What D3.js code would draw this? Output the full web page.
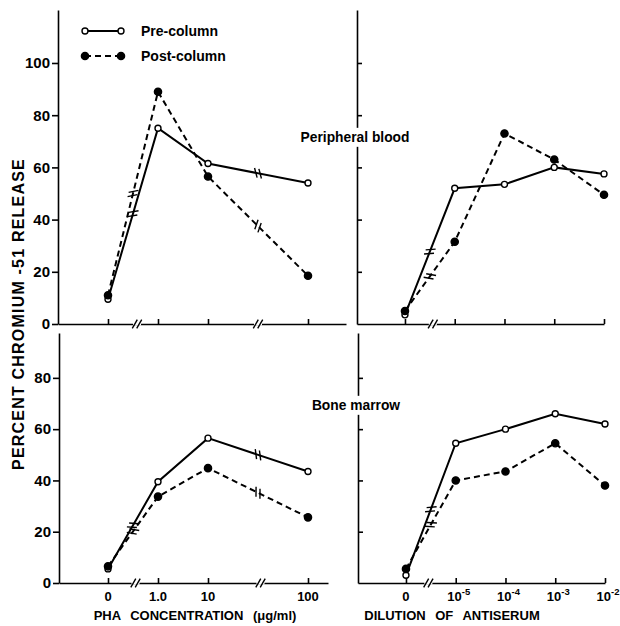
<!DOCTYPE html>
<html><head><meta charset="utf-8">
<script src="https://cdn.jsdelivr.net/npm/d3@7"></script>
<style>body{margin:0;background:#fff}svg{display:block}</style>
</head><body>
<svg id="c" width="620" height="626"></svg>
<script>
// ---- data ----
const phaLabels = ["0", "1.0", "10", "100"];
const phaPos = [0, 1, 2, 4];
const dilLabels = [["0", ""], ["10", "-5"], ["10", "-4"], ["10", "-3"], ["10", "-2"]];
const dilPos = [0, 1, 2, 3, 4];
const yTicksTop = [0, 20, 40, 60, 80, 100];
const yTicksBottom = [0, 20, 40, 60, 80];

const pbPhaPre  = [9.5, 75, 61.5, 54];
const pbPhaPost = [11, 89, 56.5, 18.5];
const pbDilPre  = [3.5, 52, 53.5, 60, 57.5];
const pbDilPost = [5, 31.5, 73, 63, 49.5];
const bmPhaPre  = [5.5, 39.5, 56.5, 43.5];
const bmPhaPost = [6.5, 33.7, 44.8, 25.6];
const bmDilPre  = [3, 54.5, 60, 66, 62];
const bmDilPost = [5.5, 40, 43.5, 54.5, 38];

const svg = d3.select("#c");
const FONT = "'Liberation Sans', Arial, sans-serif";

const yTop = d3.scaleLinear().domain([0, 120.3]).range([324, 10]);
const yBot = d3.scaleLinear().domain([0, 97.5]).range([583, 333]);

const panels = [
  {x: d3.scaleLinear().domain([-1, 4.76]).range([58, 346]), y: yTop, pos: phaPos, pre: pbPhaPre, post: pbPhaPost, side: "left", ticks: yTicksTop, breakSegs: [0, 2], axisBreaks: [0.58, 3.0]},
  {x: d3.scaleLinear().domain([-0.964, 4]).range([357, 604]), y: yTop, pos: dilPos, pre: pbDilPre, post: pbDilPost, side: "right", ticks: yTicksTop, breakSegs: [0], axisBreaks: [0.56]},
  {x: d3.scaleLinear().domain([-0.98, 4.4]).range([59, 328]), y: yBot, pos: phaPos, pre: bmPhaPre, post: bmPhaPost, side: "left", ticks: yTicksBottom, breakSegs: [0, 2], axisBreaks: [0.55, 3.05], labels: phaLabels},
  {x: d3.scaleLinear().domain([-0.964, 4]).range([358, 605]), y: yBot, pos: dilPos, pre: bmDilPre, post: bmDilPost, side: "right", ticks: yTicksBottom, breakSegs: [0], axisBreaks: [0.45], dil: dilLabels}
];

function slash(g, cx, cy, len, sw) {
  const a = -Math.PI / 3;
  const dx = Math.cos(a) * len / 2, dy = Math.sin(a) * len / 2;
  [-2.2, 2.2].forEach(off => {
    g.append("line")
      .attr("x1", cx + off - dx).attr("y1", cy - dy)
      .attr("x2", cx + off + dx).attr("y2", cy + dy)
      .attr("stroke", "#000").attr("stroke-width", sw);
  });
}

panels.forEach(p => {
  const g = svg.append("g");
  const y0 = p.y.range()[0];
  // x axis
  const xa = d3.axisBottom(p.x).tickValues(p.pos).tickSize(-5).tickSizeOuter(0).tickFormat("");
  const gx = g.append("g").attr("transform", `translate(0,${y0})`).call(xa);
  gx.selectAll("path,line").attr("stroke", "#000").attr("stroke-width", 1.6);
  // y axis
  const x0 = p.x.range()[0];
  let ya;
  if (p.side === "left") {
    ya = d3.axisLeft(p.y).tickValues(p.ticks).tickSize(6).tickSizeOuter(0).tickPadding(2).tickFormat(d3.format("d"));
  } else {
    ya = d3.axisRight(p.y).tickValues(p.ticks.filter(t => t > 0)).tickSize(5).tickSizeOuter(0).tickFormat("");
  }
  const gy = g.append("g").attr("transform", `translate(${x0},0)`).call(ya);
  gy.selectAll("path,line").attr("stroke", "#000").attr("stroke-width", 1.6);
  gy.selectAll("text").attr("font-family", FONT).attr("font-size", 15).attr("font-weight", "bold").attr("fill", "#000");

  // axis breaks
  p.axisBreaks.forEach(b => {
    const cx = p.x(b);
    g.append("rect").attr("x", cx - 4).attr("y", y0 - 1.5).attr("width", 8).attr("height", 3).attr("fill", "#fff");
    slash(g, cx, y0, 10, 1.4);
  });

  // x labels
  if (p.labels) {
    g.selectAll("text.xl").data(p.labels).join("text").attr("class", "xl")
      .attr("x", (d, i) => p.x(p.pos[i])).attr("y", y0 + 18)
      .attr("text-anchor", "middle").attr("font-family", FONT).attr("font-weight", "bold").attr("font-size", 13).text(d => d);
  }
  if (p.dil) {
    p.dil.forEach((d, i) => {
      const t = g.append("text").attr("x", p.x(p.pos[i]) + (d[1] ? 3 : 0)).attr("y", y0 + 18)
        .attr("text-anchor", "middle").attr("font-family", FONT).attr("font-weight", "bold").attr("font-size", 13);
      t.append("tspan").text(d[0]);
      if (d[1]) t.append("tspan").attr("dy", -6).attr("font-size", 9.5).text(d[1]);
    });
  }

  // series
  [{vals: p.pre, dash: null, fill: "#fff"}, {vals: p.post, dash: "6,4", fill: "#000"}].forEach(s => {
    const pts = s.vals.map((v, i) => [p.x(p.pos[i]), p.y(v)]);
    g.append("path").attr("d", d3.line()(pts)).attr("fill", "none").attr("stroke", "#000")
      .attr("stroke-width", 2).attr("stroke-dasharray", s.dash);
    p.breakSegs.forEach(si => {
      const [a, b] = [pts[si], pts[si + 1]];
      const cx = (a[0] + b[0]) / 2, cy = (a[1] + b[1]) / 2;
      const ang = Math.atan2(b[1] - a[1], b[0] - a[0]);
      const perp = ang + Math.PI / 2 - 0.45;
      const ux = Math.cos(ang), uy = Math.sin(ang);
      const dx = Math.cos(perp) * 5, dy = Math.sin(perp) * 5;
      [-2.2, 2.2].forEach(o => {
        g.append("line")
          .attr("x1", cx + ux * o - dx).attr("y1", cy + uy * o - dy)
          .attr("x2", cx + ux * o + dx).attr("y2", cy + uy * o + dy)
          .attr("stroke", "#000").attr("stroke-width", 1.4);
      });
    });
    g.selectAll(null).data(pts).join("circle").attr("cx", d => d[0]).attr("cy", d => d[1])
      .attr("r", s.fill === "#fff" ? 3 : 3.6).attr("fill", s.fill).attr("stroke", "#000").attr("stroke-width", 1.4);
  });
});

// panel labels with white background (they interrupt the axis)
[["Peripheral blood", 355, 137], ["Bone marrow", 356, 405]].forEach(([t, x, y]) => {
  const txt = svg.append("text").attr("x", x).attr("y", y).attr("dy", "0.35em").attr("text-anchor", "middle")
    .attr("font-family", FONT).attr("font-weight", "bold").attr("font-size", 13.8).text(t);
  const bb = txt.node().getBBox();
  svg.insert("rect", () => txt.node()).attr("x", bb.x - 2).attr("y", bb.y - 2).attr("width", bb.width + 4).attr("height", bb.height + 4).attr("fill", "#fff");
});

// legend
const legend = [["Pre-column", null, "#fff", 3, 31], ["Post-column", "6,4", "#000", 3.6, 56]];
legend.forEach(([t, dash, fill, r, y]) => {
  svg.append("line").attr("x1", 85).attr("x2", 121).attr("y1", y).attr("y2", y).attr("stroke", "#000").attr("stroke-width", 2).attr("stroke-dasharray", dash);
  [85, 121].forEach(cx => svg.append("circle").attr("cx", cx).attr("cy", y).attr("r", r).attr("fill", fill).attr("stroke", "#000").attr("stroke-width", 1.4));
  svg.append("text").attr("x", 141).attr("y", y).attr("dy", "0.35em").attr("font-family", FONT).attr("font-weight", "bold").attr("font-size", 14).text(t);
});

// axis titles
svg.append("text").attr("x", 195).attr("y", 620).attr("text-anchor", "middle").attr("font-family", FONT)
  .attr("font-weight", "bold").attr("font-size", 13).attr("word-spacing", 6).text("PHA CONCENTRATION (μg/ml)");
svg.append("text").attr("x", 452).attr("y", 620).attr("text-anchor", "middle").attr("font-family", FONT)
  .attr("font-weight", "bold").attr("font-size", 13).attr("word-spacing", 6).text("DILUTION OF ANTISERUM");
svg.append("text").attr("transform", "translate(24,314) rotate(-90)").attr("text-anchor", "middle").attr("font-family", FONT)
  .attr("font-weight", "bold").attr("font-size", 16).attr("letter-spacing", 1.2).text("PERCENT CHROMIUM -51 RELEASE");
</script>
</body></html>
